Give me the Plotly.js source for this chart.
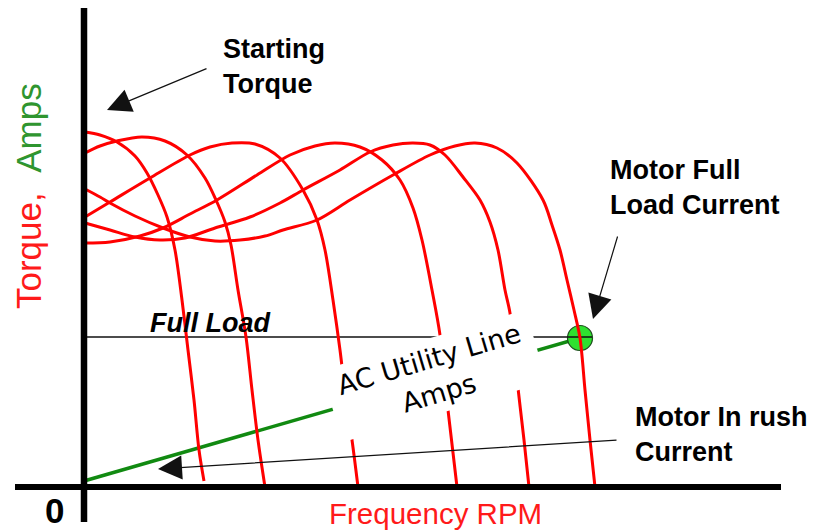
<!DOCTYPE html>
<html>
<head>
<meta charset="utf-8">
<script src="https://cdn.plot.ly/plotly-3.0.1.min.js"></script>
<style>
html,body{margin:0;padding:0;background:#fff;}
#chart{width:827px;height:531px;}
</style>
</head>
<body>
<div id="chart"></div>
<script>
// Torque-speed curves (speed from the origin, torque from the origin)
const curve1X = [1,16,33,51,63,74,83,91,98,104,110,115,120];
const curve1Y = [355,352,345,331,314,292,270,237,187,137,87,37,6];

const curve2X = [1,16,33,58,81,103,121,132,141,147,154,162,168,174,181];
const curve2Y = [334,341,346,350,346,332,309,287,265,242,197,150,97,47,0];

const curve3X = [1,26,66,106,126,148,171,196,219,233,241,249,256,262,268,274];
const curve3Y = [270,285,309,332,340,344,343,329,297,267,237,187,137,87,47,0];

const curve4X = [1,26,56,79,106,133,173,206,231,251,276,298,316,329,338,348,356,364,373];
const curve4Y = [244,245,251,259,273,287,312,332,341,344,340,327,307,279,247,197,152,77,0];

const curve5X = [1,26,51,76,101,131,166,196,219,256,286,309,329,346,361,379,396,406,414,421,426,434,440,445];
const curve5Y = [264,257,250,247,249,259,270,284,297,317,335,342,344,342,332,310,287,265,237,197,174,99,47,0];

const curve6X = [1,16,26,51,79,106,131,156,181,199,233,266,309,346,371,391,413,433,459,468,476,483,490,496,501,506,511];
const curve6Y = [298,290,284,271,259,250,246,247,251,257,267,287,312,332,341,344,339,324,287,262,237,207,177,149,97,47,0];

// AC utility line amps
const ampsX = [0, 496];
const ampsY = [6, 149];

// Full load torque level
const fullLoadX = [0, 508];
const fullLoadY = [150, 150];

// Motor full load current point
const fullLoadPointX = [496];
const fullLoadPointY = [149];

const curvesX = [curve1X, curve2X, curve3X, curve4X, curve5X, curve6X];
const curvesY = [curve1Y, curve2Y, curve3Y, curve4Y, curve5Y, curve6Y];

const traces = [];
traces.push({x: ampsX, y: ampsY, mode: 'lines', line: {color: '#118a11', width: 3.5}, hoverinfo: 'skip'});
traces.push({x: fullLoadPointX, y: fullLoadPointY, mode: 'markers',
  marker: {size: 25, color: '#2fe02f', line: {color: '#1d4d1d', width: 1.2}}, hoverinfo: 'skip'});
traces.push({x: fullLoadX, y: fullLoadY, mode: 'lines', line: {color: '#111', width: 1.3}, hoverinfo: 'skip'});
for (let i = 0; i < curvesX.length; i++) {
  traces.push({x: curvesX[i], y: curvesY[i], mode: 'lines',
    line: {color: '#ff0000', width: 3, shape: 'spline', smoothing: 0.9}, hoverinfo: 'skip'});
}

const boldFont = {family: 'Liberation Sans, Arial, sans-serif', size: 27, color: '#000'};
const arrowCommon = {text: '', showarrow: true, arrowhead: 2, arrowsize: 4, arrowwidth: 1.2,
  arrowcolor: '#111', axref: 'x', ayref: 'y', xref: 'x', yref: 'y', standoff: 0};

const layout = {
  width: 827, height: 531,
  margin: {l: 0, r: 0, t: 0, b: 0, pad: 0},
  paper_bgcolor: '#ffffff', plot_bgcolor: '#ffffff',
  showlegend: false,
  xaxis: {range: [-84, 743], visible: false, fixedrange: true},
  yaxis: {range: [-44, 487], visible: false, fixedrange: true},
  shapes: [
    {type: 'line', xref: 'x', yref: 'y', x0: 0, x1: 0, y0: -35, y1: 479, line: {color: '#000', width: 6.5}, layer: 'above'},
    {type: 'line', xref: 'x', yref: 'y', x0: -69, x1: 697, y0: 0, y1: 0, line: {color: '#000', width: 6}, layer: 'above'}
  ],
  annotations: [
    {xref: 'x', yref: 'y', x: 137, y: 421, xanchor: 'left', yanchor: 'middle', align: 'left', showarrow: false,
     text: '<b>Starting<br>Torque</b>', font: boldFont},
    {xref: 'x', yref: 'y', x: 524, y: 300, xanchor: 'left', yanchor: 'middle', align: 'left', showarrow: false,
     text: '<b>Motor Full<br>Load Current</b>', font: boldFont},
    {xref: 'x', yref: 'y', x: 549, y: 53, xanchor: 'left', yanchor: 'middle', align: 'left', showarrow: false,
     text: '<b>Motor In rush<br>Current</b>', font: boldFont},
    {xref: 'x', yref: 'y', x: 64, y: 164, xanchor: 'left', yanchor: 'middle', showarrow: false,
     text: '<b><i>Full Load</i></b>', font: boldFont},
    {xref: 'x', yref: 'y', x: -30, y: -23, xanchor: 'center', yanchor: 'middle', showarrow: false,
     text: '<b>0</b>', font: {family: 'Liberation Sans, Arial, sans-serif', size: 35, color: '#000'}},
    {xref: 'x', yref: 'y', x: 351, y: -26, xanchor: 'center', yanchor: 'middle', showarrow: false,
     text: 'Frequency RPM', font: {family: 'Liberation Sans, Arial, sans-serif', size: 29.5, color: '#ff1a1a'}},
    {xref: 'x', yref: 'y', x: -56, y: 291, xanchor: 'center', yanchor: 'middle', showarrow: false, textangle: -90,
     text: '<span style="color:#ff1a1a">Torque,</span>\u00a0\u00a0<span style="color:#2f952f">Amps</span>',
     font: {family: 'Liberation Sans, Arial, sans-serif', size: 35, color: '#ff1a1a'}},
    {xref: 'x', yref: 'y', x: 350, y: 111, xanchor: 'center', yanchor: 'middle', showarrow: false, textangle: -16.5,
     width: 212, height: 74, bgcolor: '#ffffff', borderpad: 0, align: 'center', valign: 'middle',
     text: 'AC Utility Line<br>Amps', font: {family: 'DejaVu Sans, Verdana, sans-serif', size: 27, color: '#000'}},
    Object.assign({x: 23, y: 377, ax: 124, ay: 419}, arrowCommon),
    Object.assign({x: 509, y: 168, ax: 534, ay: 252}, arrowCommon),
    Object.assign({x: 74, y: 18, ax: 534, ay: 47}, arrowCommon)
  ]
};

Plotly.newPlot('chart', traces, layout, {staticPlot: true, displayModeBar: false});
</script>
</body>
</html>
